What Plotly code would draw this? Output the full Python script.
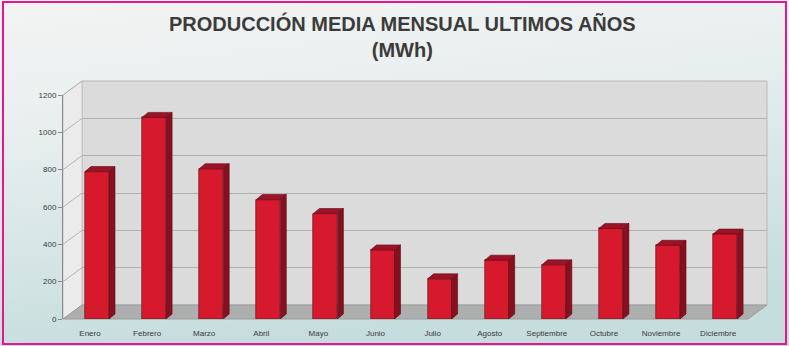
import base64
import plotly.graph_objects as go

# ---------------- data ----------------
months = ["Enero", "Febrero", "Marzo", "Abril", "Mayo", "Junio", "Julio",
          "Agosto", "Septiembre", "Octubre", "Noviembre", "Diciembre"]
production = [790, 1080, 805, 640, 565, 370, 215, 315, 290, 485, 395, 455]
y_ticks = [0, 200, 400, 600, 800, 1000, 1200]
title_text = "PRODUCCIÓN MEDIA MENSUAL ULTIMOS AÑOS<br>(MWh)"

# ---------------- geometry (pixels) ----------------
W, H = 789, 346
def px(x): return x / W
def py(y): return 1 - y / H

FRONT_L, FRONT_R = 63, 748      # front plane x extent
Y0, Y1 = 319, 95                # front plane: y pixel of 0 and of 1200
DX, DY = 19, 14                 # 3D depth offset of back wall
YMAX = 1200
LABEL0, STEP = 90, 57.1         # first category label position, category spacing

xr = [(FRONT_L - LABEL0) / STEP, (FRONT_R - LABEL0) / STEP]
u_y = YMAX / (Y0 - Y1)          # data units per pixel (y)

bar_shift = 7 / STEP
bar_w = 24 / STEP
depth_x = 6 / STEP
depth_y = 5 * u_y

front_col = "#d7192d"
side_col = "#86101f"
top_col = "#9c1227"
edge_col = "#5e0a14"

xs = list(range(len(months)))

# side and top faces of the bars, computed from the data
side_x, side_y, top_x, top_y = [], [], [], []
for i, v in zip(xs, production):
    l = i + bar_shift - bar_w / 2
    r = i + bar_shift + bar_w / 2
    side_x += [r, r + depth_x, r + depth_x, r, r, None]
    side_y += [0, depth_y, v + depth_y, v, 0, None]
    top_x += [l, l + depth_x, r + depth_x, r, l, None]
    top_y += [v, v + depth_y, v + depth_y, v, v, None]

fig = go.Figure()

# invisible trace to create the back-wall grid subplot (x, y)
fig.add_trace(go.Scatter(x=[0, 1], y=[0, 0], mode="markers",
                         marker=dict(opacity=0), showlegend=False,
                         hoverinfo="skip", xaxis="x", yaxis="y"))

fig.add_trace(go.Bar(x=xs, y=production, width=bar_w,
                     offset=bar_shift - bar_w / 2,
                     marker=dict(color=front_col, line=dict(color=edge_col, width=0.6)),
                     showlegend=False, xaxis="x2", yaxis="y2"))
fig.add_trace(go.Scatter(x=side_x, y=side_y, mode="lines", fill="toself",
                         fillcolor=side_col, line=dict(color=edge_col, width=0.6),
                         showlegend=False, hoverinfo="skip", xaxis="x2", yaxis="y2"))
fig.add_trace(go.Scatter(x=top_x, y=top_y, mode="lines", fill="toself",
                         fillcolor=top_col, line=dict(color=edge_col, width=0.6),
                         showlegend=False, hoverinfo="skip", xaxis="x2", yaxis="y2"))

# ---------------- background gradient ----------------
svg = (f'<svg xmlns="http://www.w3.org/2000/svg" width="{W}" height="{H}" '
       f'preserveAspectRatio="none"><defs><linearGradient id="g" x1="0" y1="0" x2="0.25" y2="1">'
       '<stop offset="0" stop-color="#f3f3f3"/><stop offset="0.35" stop-color="#e9efef"/>'
       '<stop offset="1" stop-color="#c6dddd"/></linearGradient></defs>'
       f'<rect width="{W}" height="{H}" fill="url(#g)"/></svg>')
bg_src = "data:image/svg+xml;base64," + base64.b64encode(svg.encode()).decode()

shapes = []
# back wall
shapes.append(dict(type="rect", xref="paper", yref="paper", layer="below",
                   x0=px(FRONT_L + DX), x1=px(FRONT_R + DX),
                   y0=py(Y0 - DY), y1=py(Y1 - DY),
                   fillcolor="#dcdbdb", line=dict(color="#b9b9b9", width=1)))
# left wall
lw = (f"M {px(FRONT_L)},{py(Y0)} L {px(FRONT_L)},{py(Y1)} "
      f"L {px(FRONT_L + DX)},{py(Y1 - DY)} L {px(FRONT_L + DX)},{py(Y0 - DY)} Z")
shapes.append(dict(type="path", path=lw, xref="paper", yref="paper", layer="below",
                   fillcolor="#ecebeb", line=dict(color="#c4c4c4", width=1)))
# floor
fl = (f"M {px(FRONT_L)},{py(Y0)} L {px(FRONT_L + DX)},{py(Y0 - DY)} "
      f"L {px(FRONT_R + DX)},{py(Y0 - DY)} L {px(FRONT_R)},{py(Y0)} Z")
shapes.append(dict(type="path", path=fl, xref="paper", yref="paper", layer="below",
                   fillcolor="#adafaf", line=dict(color="#9a9c9c", width=1)))
# left-wall grid diagonals
for t in y_ticks[1:]:
    yp = Y0 - t / u_y
    shapes.append(dict(type="line", xref="paper", yref="paper", layer="below",
                       x0=px(FRONT_L), y0=py(yp), x1=px(FRONT_L + DX), y1=py(yp - DY),
                       line=dict(color="#b4b4b4", width=1)))
# pink frame
shapes.append(dict(type="rect", xref="paper", yref="paper", layer="above",
                   x0=px(3), x1=px(786), y0=py(344), y1=py(2),
                   line=dict(color="#e8168c", width=2), fillcolor="rgba(0,0,0,0)"))

tick_font = dict(family="Liberation Sans, Arial, sans-serif", size=8, color="#3a3a3a")

fig.update_layout(
    width=W, height=H,
    margin=dict(l=0, r=0, t=0, b=0),
    paper_bgcolor="#e6eeee",
    plot_bgcolor="rgba(0,0,0,0)",
    showlegend=False,
    bargap=0,
    images=[dict(source=bg_src, xref="paper", yref="paper", x=0, y=1,
                 sizex=1, sizey=1, sizing="stretch", layer="below",
                 xanchor="left", yanchor="top")],
    shapes=shapes,
    # back wall grid subplot
    xaxis=dict(domain=[px(FRONT_L + DX), px(FRONT_R + DX)], range=[0, 1],
               visible=False, fixedrange=True),
    yaxis=dict(domain=[py(Y0 - DY), py(Y1 - DY)], range=[0, YMAX],
               tickvals=y_ticks, showgrid=True, gridcolor="#b0b0b0", gridwidth=1,
               showticklabels=False, zeroline=False, showline=False,
               ticks="", anchor="x", automargin=False),
    # front plane subplot with the bars
    xaxis2=dict(domain=[px(FRONT_L), px(FRONT_R)], range=xr, anchor="y2",
                tickvals=xs, ticktext=months, tickfont=tick_font,
                showgrid=False, zeroline=False, showline=False, ticks="",
                ticklabelstandoff=8, automargin=False),
    yaxis2=dict(domain=[py(Y0), py(Y1)], range=[0, YMAX], anchor="x2",
                tickvals=y_ticks, tickfont=tick_font,
                ticks="outside", ticklen=4, tickcolor="#8a8a8a",
                showline=True, linecolor="#8a8a8a", linewidth=1,
                showgrid=False, zeroline=False, automargin=False),
    annotations=[dict(text="<b>" + title_text.replace("<br>", "</b><br><b>") + "</b>",
                      xref="paper", yref="paper", x=px(403), y=py(10),
                      xanchor="center", yanchor="top", showarrow=False,
                      font=dict(family="Liberation Sans, Arial, sans-serif",
                                size=20, color="#3b3b3b"),
                      align="center")],
)

fig.write_html("out.html")
